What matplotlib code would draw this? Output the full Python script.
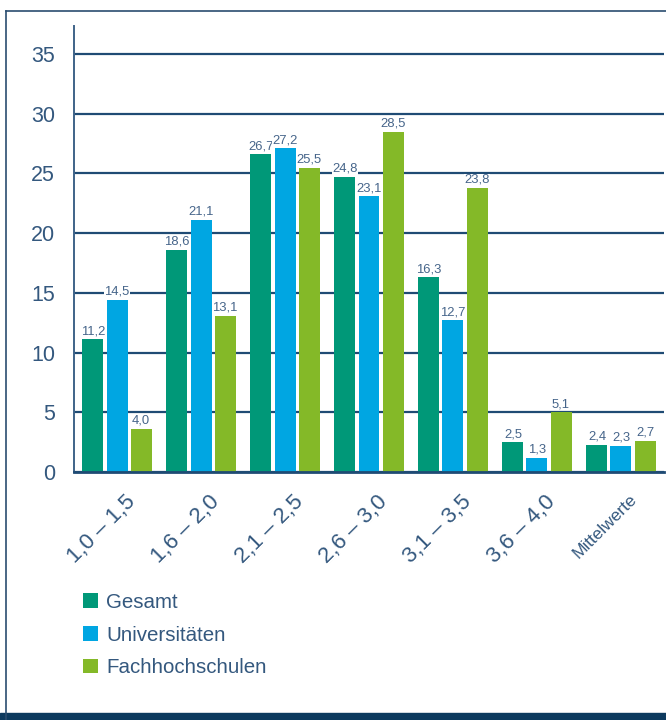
import numpy as np
import matplotlib.pyplot as plt
import matplotlib.transforms as mtransforms
from matplotlib.patches import Rectangle
from matplotlib.lines import Line2D

plt.rcParams['font.family'] = ['Liberation Sans', 'DejaVu Sans']

# Daten
kategorien = ['1,0 – 1,5', '1,6 – 2,0', '2,1 – 2,5', '2,6 – 3,0', '3,1 – 3,5', '3,6 – 4,0', 'Mittelwerte']
serien = ['Gesamt', 'Universitäten', 'Fachhochschulen']
gesamt = [11.2, 18.6, 26.7, 24.8, 16.3, 2.5, 2.4]
uni = [14.5, 21.1, 27.2, 23.1, 12.7, 1.3, 2.3]
fh = [4.0, 13.1, 25.5, 28.5, 23.8, 5.1, 2.7]
# Balkenhoehen (weichen teils leicht von den Beschriftungen ab)
hoehe_gesamt = [11.1, 18.6, 26.6, 24.7, 16.3, 2.5, 2.3]
hoehe_uni = [14.4, 21.1, 27.1, 23.1, 12.7, 1.2, 2.2]
hoehe_fh = [3.6, 13.1, 25.5, 28.5, 23.8, 5.0, 2.6]
yticks = [0, 5, 10, 15, 20, 25, 30, 35]

farben = ['#009878', '#00a6e2', '#84b928']
text_farbe = '#34587e'
linie_farbe = '#1f4b74'

fig = plt.figure(figsize=(6.66, 7.2), dpi=100)
ax = fig.add_axes([74/666, 1-472/720, 590/666, 446/720])

x = np.arange(len(kategorien))
w = 0.25
off = 0.286
werte = [gesamt, uni, fh]
hoehen = [hoehe_gesamt, hoehe_uni, hoehe_fh]
for k in range(3):
    bars = ax.bar(x + (k-1)*off, hoehen[k], width=w, color=farben[k], label=serien[k], zorder=2)
    for b, v in zip(bars, werte[k]):
        ax.annotate(f'{v:.1f}'.replace('.', ','), (b.get_x() + b.get_width()/2, b.get_height()),
                    xytext=(0, 1.5), textcoords='offset points', ha='center', va='bottom',
                    fontsize=9.4, color='#46658a', zorder=4,
                    bbox=dict(facecolor='white', edgecolor='none', pad=0.0))

ax.set_xlim(-0.512, 6.512)
ax.set_ylim(0, 37.35)
ax.set_yticks(yticks)
ax.set_yticklabels([str(t) for t in yticks], fontsize=15.5, color=text_farbe)
ax.tick_params(axis='y', length=0, pad=13.5)
ax.yaxis.grid(True, color=linie_farbe, linewidth=1.6, zorder=1)
ax.set_axisbelow(True)

ax.set_xticks(x)
ax.set_xticklabels(kategorien, rotation=45, ha='right', rotation_mode='anchor', color=text_farbe, fontsize=16)
ax.tick_params(axis='x', length=0, pad=14)
offset = mtransforms.ScaledTranslation(8/100, 0, fig.dpi_scale_trans)
for lab in ax.get_xticklabels():
    lab.set_transform(lab.get_transform() + offset)
ax.get_xticklabels()[-1].set_fontsize(12.5)

for s in ['top', 'right']:
    ax.spines[s].set_visible(False)
ax.spines['left'].set_color('#3f6388')
ax.spines['left'].set_linewidth(1.4)
ax.spines['bottom'].set_color(linie_farbe)
ax.spines['bottom'].set_linewidth(2)
ax.spines['bottom'].set_zorder(3)

# Legende
fig.legend(loc='upper left', bbox_to_anchor=(83/666, 1-593/720), frameon=False,
           fontsize=14.8, handlelength=0.72, handleheight=0.72, handletextpad=0.42,
           labelspacing=0.66, borderpad=0, borderaxespad=0, labelcolor=text_farbe)

# Rahmen
fig.add_artist(Line2D([6/666, 6/666], [0, 1-11/720], color='#2a4d70', linewidth=1.2))
fig.add_artist(Line2D([6/666, 1], [1-11/720, 1-11/720], color='#2a4d70', linewidth=1.2))
fig.add_artist(Rectangle((0, 0), 1, 7/720, color='#0d3a5e', transform=fig.transFigure))

fig.savefig('out.png', dpi=100)
